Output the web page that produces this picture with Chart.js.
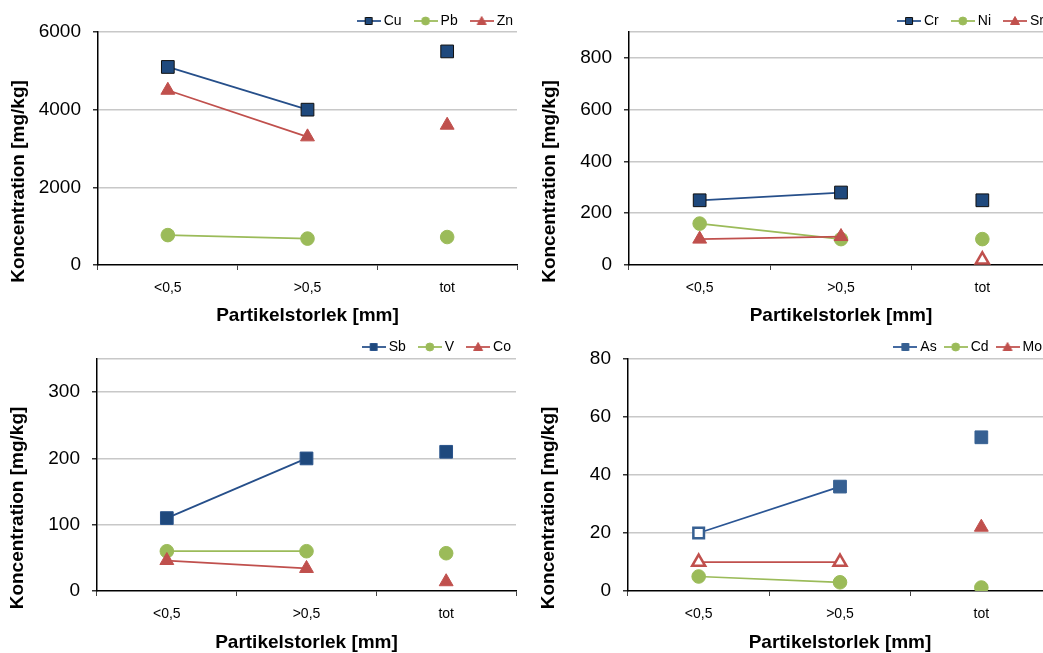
<!DOCTYPE html>
<html>
<head>
<meta charset="utf-8">
<script src="https://cdn.jsdelivr.net/npm/chart.js@4.4.1/dist/chart.umd.min.js"></script>
<style>
html, body { margin: 0; padding: 0; background: #fff; overflow: hidden; width: 1043px; height: 653px; }
canvas { position: absolute; }
</style>
</head>
<body>
<canvas id="c1"></canvas>
<canvas id="c2"></canvas>
<canvas id="c3"></canvas>
<canvas id="c4"></canvas>
<script>
// Particle size fractions
const categories = ['<0,5', '>0,5', 'tot'];

// Concentrations, mg/kg
const cuConc = [5100, 4000, 5500];
const pbConc = [770, 680, 720];
const znConc = [4500, 3300, 3600];

const crConc = [250, 280, 250];
const niConc = [160, 100, 100];
const srConc = [100, 110, 20];
const srBelowLimit = [false, false, true];

const sbConc = [110, 200, 210];
const vConc  = [60, 60, 57];
const coConc = [46, 34, 14];

const asConc = [20, 36, 53];
const asBelowLimit = [true, false, false];
const cdConc = [5, 3, 1.2];
const moConc = [10, 10, 22];
const moBelowLimit = [true, true, false];

// y-axis ranges
const yMax1 = 6000, yStep1 = 2000;
const yMax2 = 900,  yStep2 = 200;
const yMax3 = 350,  yStep3 = 100;
const yMax4 = 80,   yStep4 = 20;

const FONT = '"Liberation Sans", Arial, Helvetica, sans-serif';
const GREEN = '#9BBB59';
const RED = '#C0504D';

const panels = [
  { id: 'c1', left: 0,   top: -2,  width: 529, height: 329, yWidth: 98, rightWidth: 12, xHeight: 62, legendHeight: 34, legendPad: 16,
    yMax: yMax1, yStep: yStep1,
    series: [
      { label: 'Cu', data: cuConc, kind: 'square',   line: '#264F8A', fill: '#1F497D', edge: '#101010' },
      { label: 'Pb', data: pbConc, kind: 'circle',   line: GREEN, fill: GREEN, edge: GREEN },
      { label: 'Zn', data: znConc, kind: 'triangle', line: RED, fill: RED, edge: RED }
    ] },
  { id: 'c2', left: 530, top: -2,  width: 530, height: 329, yWidth: 99, rightWidth: 7, xHeight: 62, legendHeight: 34, legendPad: 16,
    yMax: yMax2, yStep: yStep2,
    series: [
      { label: 'Cr', data: crConc, kind: 'square',   line: '#264F8A', fill: '#1F497D', edge: '#101010' },
      { label: 'Ni', data: niConc, kind: 'circle',   line: GREEN, fill: GREEN, edge: GREEN },
      { label: 'Sr', data: srConc, kind: 'triangle', line: RED, fill: RED, edge: RED, open: srBelowLimit }
    ] },
  { id: 'c3', left: 0,   top: 324, width: 527, height: 330, yWidth: 97, rightWidth: 11, xHeight: 63, legendHeight: 35, legendPad: 16,
    yMax: yMax3, yStep: yStep3,
    series: [
      { label: 'Sb', data: sbConc, kind: 'square',   line: '#264F8A', fill: '#1F497D', edge: '#2A548C' },
      { label: 'V',  data: vConc,  kind: 'circle',   line: GREEN, fill: GREEN, edge: GREEN },
      { label: 'Co', data: coConc, kind: 'triangle', line: RED, fill: RED, edge: RED }
    ] },
  { id: 'c4', left: 530, top: 329, width: 523, height: 325, yWidth: 98, rightWidth: 1, xHeight: 63, legendHeight: 30, legendPad: 11,
    yMax: yMax4, yStep: yStep4,
    series: [
      { label: 'As', data: asConc, kind: 'square',   line: '#2A5594', fill: '#376092', edge: '#376092', open: asBelowLimit },
      { label: 'Cd', data: cdConc, kind: 'circle',   line: GREEN, fill: GREEN, edge: GREEN },
      { label: 'Mo', data: moConc, kind: 'triangle', line: RED, fill: RED, edge: RED, open: moBelowLimit }
    ] }
];

const STYLE = { square: 'rect', circle: 'circle', triangle: 'triangle' };
const RADIUS = { square: 9, circle: 6.8, triangle: 8 };
const RADIUS_OPEN = { square: 7.5, circle: 6, triangle: 7.5 };

// Small line-with-marker swatch for the legend
function legendIcon(s) {
  const c = document.createElement('canvas');
  c.width = 24; c.height = 12;
  const g = c.getContext('2d');
  g.strokeStyle = s.line; g.lineWidth = 1.75;
  g.beginPath(); g.moveTo(0, 6); g.lineTo(24, 6); g.stroke();
  g.fillStyle = s.fill; g.strokeStyle = s.edge; g.lineWidth = 1;
  g.beginPath();
  if (s.kind === 'square') { g.rect(8.5, 2.5, 7, 7); }
  else if (s.kind === 'circle') { g.arc(12, 6, 4, 0, Math.PI * 2); }
  else { g.moveTo(12, 1.5); g.lineTo(16.5, 9.5); g.lineTo(7.5, 9.5); g.closePath(); }
  g.fill(); g.stroke();
  return c;
}

function makeDataset(s, i, n) {
  const open = s.open || s.data.map(() => false);
  return {
    label: s.label,
    data: s.data,
    yAxisID: 'y',
    order: n - 1 - i,
    borderColor: s.line,
    borderWidth: 1.75,
    backgroundColor: s.fill,
    pointStyle: STYLE[s.kind],
    pointRadius: open.map(o => o ? RADIUS_OPEN[s.kind] : RADIUS[s.kind]),
    pointHoverRadius: open.map(o => o ? RADIUS_OPEN[s.kind] : RADIUS[s.kind]),
    pointBackgroundColor: open.map(o => o ? '#FFFFFF' : s.fill),
    pointBorderColor: open.map(o => o ? s.fill : s.edge),
    pointBorderWidth: open.map(o => o ? 2.5 : 1),
    // the total sample is plotted on its own, not joined to the fractions
    segment: { borderColor: ctx => ctx.p1DataIndex === 2 ? 'rgba(0,0,0,0)' : s.line },
    tension: 0,
    fill: false
  };
}

const yTitlePlugin = {
  id: 'yTitle',
  afterDraw(chart, args, opts) {
    const { ctx, chartArea } = chart;
    ctx.save();
    ctx.translate(chartArea.left - 79, (chartArea.top + chartArea.bottom) / 2 + 33);
    ctx.rotate(-Math.PI / 2);
    ctx.font = 'bold 19px ' + FONT;
    ctx.fillStyle = '#000';
    ctx.textAlign = 'center';
    ctx.textBaseline = 'middle';
    ctx.fillText(opts.text, 0, 0);
    ctx.restore();
  }
};

panels.forEach(p => {
  const el = document.getElementById(p.id);
  el.width = p.width; el.height = p.height;
  el.style.left = p.left + 'px'; el.style.top = p.top + 'px';
  el.style.width = p.width + 'px'; el.style.height = p.height + 'px';
  const icons = p.series.map(legendIcon);

  new Chart(el, {
    type: 'line',
    data: { labels: categories, datasets: p.series.map((s, i) => makeDataset(s, i, p.series.length)) },
    plugins: [yTitlePlugin],
    options: {
      responsive: false,
      animation: false,
      devicePixelRatio: 1,
      layout: { padding: 0, autoPadding: false },
      plugins: {
        yTitle: { text: 'Koncentration [mg/kg]' },
        tooltip: { enabled: false },
        legend: {
          display: true, position: 'top', align: 'end', maxHeight: p.legendHeight,
          labels: {
            usePointStyle: true, pointStyleWidth: 16, boxHeight: 14, padding: p.legendPad,
            color: '#000', font: { family: FONT, size: 14 },
            sort: (a, b) => a.datasetIndex - b.datasetIndex,
            generateLabels(chart) {
              const items = Chart.defaults.plugins.legend.labels.generateLabels(chart);
              items.forEach(it => { it.pointStyle = icons[it.datasetIndex]; });
              return items;
            }
          }
        }
      },
      scales: {
        x: {
          type: 'category', offset: true,
          afterFit: s => { s.height = p.xHeight; },
          grid: { offset: true, drawOnChartArea: false, drawTicks: true, tickLength: 5, color: '#444', tickColor: '#444', lineWidth: 1 },
          border: { display: true, color: '#000', width: 1.5 },
          ticks: { color: '#000', font: { family: FONT, size: 14 }, padding: 10, maxRotation: 0, autoSkip: false },
          title: { display: true, text: 'Partikelstorlek [mm]', color: '#000',
                   font: { family: FONT, size: 19, weight: 'bold' }, padding: { top: 0, bottom: 0 } }
        },
        y: {
          type: 'linear', position: 'left', min: 0, max: p.yMax,
          afterFit: s => { s.width = p.yWidth; },
          ticks: { stepSize: p.yStep, color: '#000', font: { family: FONT, size: 19 }, padding: 12,
                   callback: v => (v % p.yStep === 0 ? String(v) : '') },
          grid: {
            lineWidth: 1.5, tickLength: 5, drawTicks: true,
            color: c => (c.tick && c.tick.value === 0) ? 'rgba(0,0,0,0)' : '#C8C8C8',
            tickColor: c => (c.tick && c.tick.value % p.yStep === 0) ? '#333' : 'rgba(0,0,0,0)'
          },
          border: { display: true, color: '#000', width: 1.5 }
        },
        yR: {
          type: 'linear', position: 'right', display: true,
          afterFit: s => { s.width = p.rightWidth; },
          grid: { display: false }, ticks: { display: false }, border: { display: false }
        }
      }
    }
  });
});
</script>
</body>
</html>
